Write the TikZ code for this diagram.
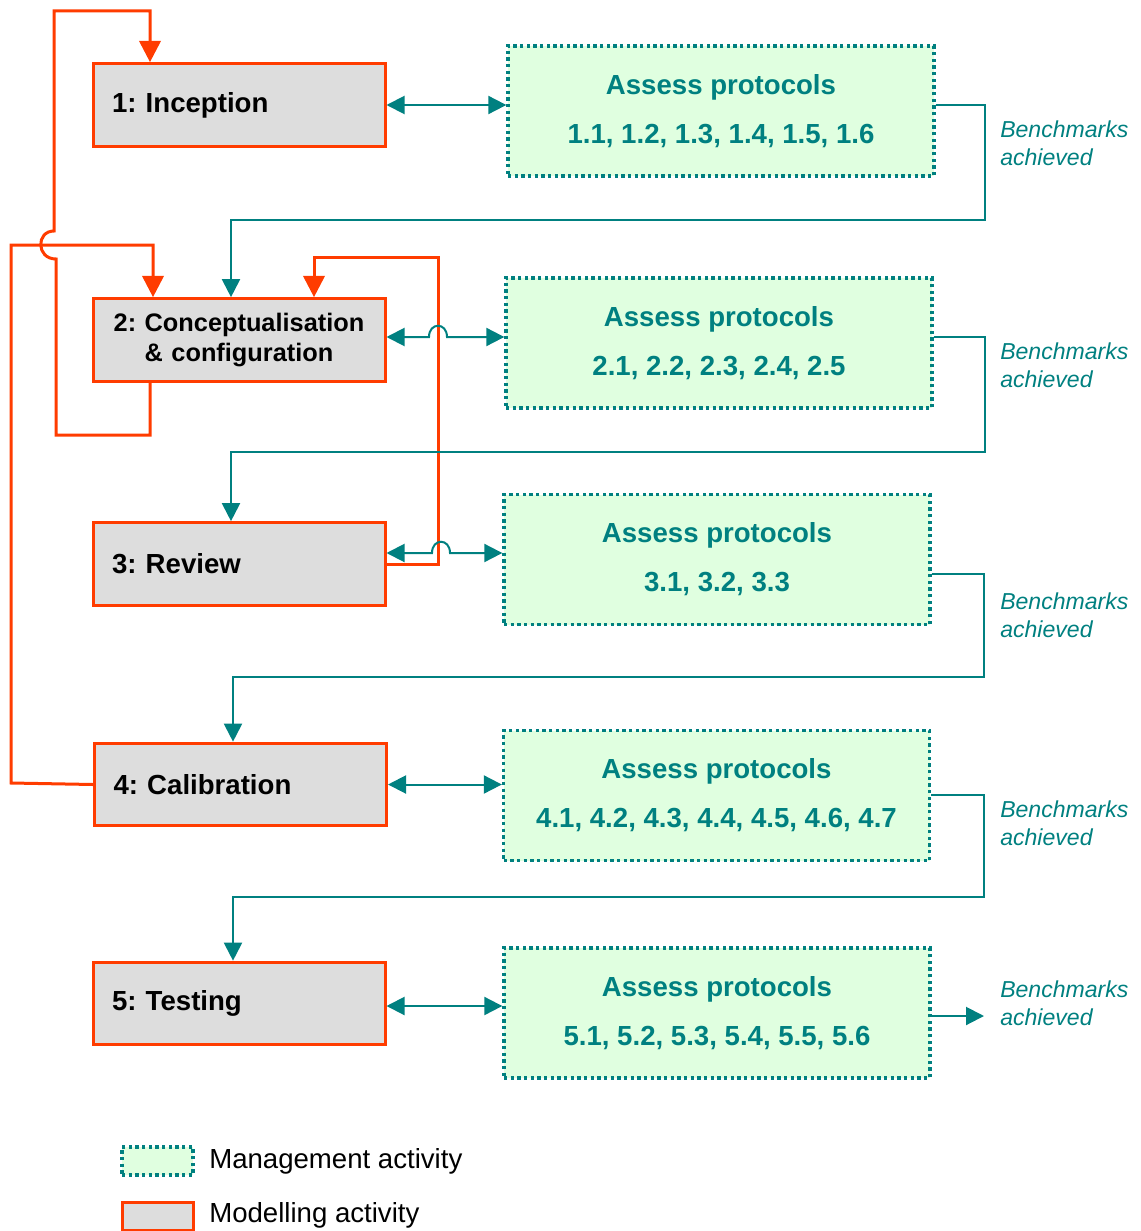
\documentclass[tikz,border=0pt]{standalone}
\usepackage{fontspec}
\setmainfont{Liberation Sans}
\usetikzlibrary{arrows.meta,calc}
\definecolor{redc}{HTML}{FF3C00}
\definecolor{tealc}{HTML}{008080}
\definecolor{greenf}{HTML}{E0FFE0}
\definecolor{grayf}{HTML}{DDDDDD}
\frenchspacing
\begin{document}
\begin{tikzpicture}[x=0.75pt,y=-0.75pt,
  modbox/.style={draw=redc, fill=grayf, line width=2.25pt, minimum width=219pt, minimum height=62pt, inner sep=0pt, font=\fontsize{20.7}{22.5}\selectfont\bfseries},
  mgmt/.style={draw=tealc, fill=greenf, line width=2.5pt, dash pattern=on 2.5pt off 2.5pt, minimum width=319.5pt, minimum height=97.5pt, inner sep=0pt, align=center, text=tealc, font=\fontsize{20.7}{36.75}\selectfont\bfseries},
  bench/.style={text=tealc, font=\fontsize{17.3}{21}\selectfont\itshape, align=left, anchor=west, inner sep=0pt},
  legtext/.style={anchor=west, inner sep=0pt, font=\fontsize{20.7}{24}\selectfont},
  redline/.style={draw=redc, line width=2.25pt},
  redarr/.style={redline, -{Triangle[length=16pt,width=16pt]}},
  tealline/.style={draw=tealc, line width=1.5pt},
  tealarr/.style={tealline, -{Triangle[length=13.5pt,width=13.5pt]}},
  tealdbl/.style={tealline, {Triangle[length=13.5pt,width=13.5pt]}-{Triangle[length=13.5pt,width=13.5pt]}}
]
\useasboundingbox (0,0) rectangle (1140,1231);

% modelling boxes
\node[modbox, text width=190.5pt, align=left] (b1) at (239,105) {1: Inception};
\node[modbox, text width=200pt, align=center, font=\fontsize{19}{22.5}\selectfont\bfseries] (b2) at (239,340) {\rule{0pt}{11pt}2: Conceptualisation\\\& configuration};
\node[modbox, text width=190.5pt, align=left] (b3) at (239,564) {3: Review};
\node[modbox, text width=190.5pt, align=left] (b4) at (240.5,784.5) {4: Calibration};
\node[modbox, text width=190.5pt, align=left] (b5) at (239,1003.5) {5: Testing};

% management boxes
\node[mgmt] (a1) at (721,111) {Assess protocols\\1.1, 1.2, 1.3, 1.4, 1.5, 1.6};
\node[mgmt] (a2) at (719,343) {Assess protocols\\2.1, 2.2, 2.3, 2.4, 2.5};
\node[mgmt] (a3) at (717,559.5) {Assess protocols\\3.1, 3.2, 3.3};
\node[mgmt] (a4) at (716.5,795.5) {Assess protocols\\4.1, 4.2, 4.3, 4.4, 4.5, 4.6, 4.7};
\node[mgmt] (a5) at (717,1013) {Assess protocols\\5.1, 5.2, 5.3, 5.4, 5.5, 5.6};

% benchmark labels
\node[bench] (t1) at (1000,143) {Benchmarks\\achieved};
\node[bench] (t2) at (1000,365) {Benchmarks\\achieved};
\node[bench] (t3) at (1000,615) {Benchmarks\\achieved};
\node[bench] (t4) at (1000,823) {Benchmarks\\achieved};
\node[bench] (t5) at (1000,1003) {Benchmarks\\achieved};

% red connectors
\draw[redarr] (150,0 |- b2.south) -- (150,435) -- (56,435) -- (56,259)
  .. controls (36,259) and (36,231) .. (54,231) -- (54,11) -- (150,11) -- (150,0 |- b1.north);
\draw[redarr] (b4.west) -- (11,783) -- (11,245) -- (153,245) -- (153,0 |- b2.north);
\draw[redarr] (b3.east) -- (438,564) -- (438,257) -- (314,257) -- (314,0 |- b2.north);

% teal double arrows
\draw[tealdbl] (b1.east) -- (a1.west |- b1.east);
\draw[tealdbl] (b2.east |- 0,337) -- (429,337) .. controls (429,322) and (447,322) .. (447,337) -- (a2.west |- 0,337);
\draw[tealdbl] (b3.east |- 0,553) -- (432,553) .. controls (432,538) and (450,538) .. (450,553) -- (a3.west |- 0,553);
\draw[tealdbl] (b4.east) -- (a4.west |- b4.east);
\draw[tealdbl] (b5.east |- 0,1006) -- (a5.west |- 0,1006);

% benchmark connectors
\draw[tealarr] (a1.east |- 0,105) -- (985,105) -- (985,220) -- (231,220) -- (231,0 |- b2.north);
\draw[tealarr] (a2.east |- 0,337) -- (985,337) -- (985,452) -- (231,452) -- (231,0 |- b3.north);
\draw[tealarr] (a3.east |- 0,574) -- (984,574) -- (984,677) -- (233,677) -- (233,0 |- b4.north);
\draw[tealarr] (a4.east |- 0,795) -- (984,795) -- (984,897) -- (233,897) -- (233,0 |- b5.north);
\coordinate (end5) at (984,1016);
\draw[tealarr] (a5.east |- end5) -- (end5);

% legend
\node[mgmt, minimum width=53.25pt, minimum height=21pt] (lg1) at (157.5,1161) {};
\node[modbox, minimum width=53.25pt, minimum height=21pt] (lg2) at (157.5,1216) {};
\node[legtext] (lt1) at (209,1161) {Management activity};
\node[legtext] (lt2) at (209,1215) {Modelling activity};
\end{tikzpicture}
\end{document}
